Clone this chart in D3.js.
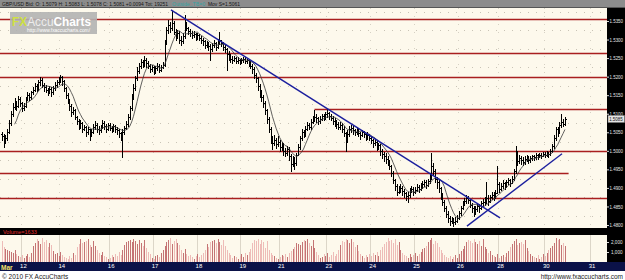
<!DOCTYPE html>
<html>
<head>
<meta charset="utf-8">
<script src="https://cdnjs.cloudflare.com/ajax/libs/d3/7.8.5/d3.min.js"></script>
<style>
body { margin: 0; background: #fff; }
svg { display: block; font-family: "Liberation Sans", Arial, sans-serif; }
</style>
</head>
<body>
<div id="chart"></div>
<script>

// ******* DATA (GBP/USD hourly bars) *******
var firstOpen = 1.5045;
var closes = [
	1.5040, 1.5025, 1.5035, 1.5050, 1.5075, 1.5100, 1.5118, 1.5130, 1.5122, 1.5140,
	1.5128, 1.5115, 1.5122, 1.5140, 1.5150, 1.5145, 1.5158, 1.5165, 1.5175, 1.5170,
	1.5185, 1.5190, 1.5178, 1.5172, 1.5165, 1.5160, 1.5168, 1.5158, 1.5170, 1.5178,
	1.5185, 1.5192, 1.5198, 1.5188, 1.5170, 1.5150, 1.5135, 1.5120, 1.5105, 1.5110,
	1.5090, 1.5080, 1.5068, 1.5075, 1.5060, 1.5065, 1.5050, 1.5058, 1.5045, 1.5052,
	1.5065, 1.5070, 1.5060, 1.5055, 1.5065, 1.5075, 1.5068, 1.5060, 1.5070, 1.5062,
	1.5058, 1.5066, 1.5060, 1.5055, 1.5048, 1.5040, 1.5050, 1.5062, 1.5072, 1.5090,
	1.5115, 1.5145, 1.5170, 1.5195, 1.5215, 1.5228, 1.5240, 1.5232, 1.5245, 1.5238,
	1.5228, 1.5220, 1.5225, 1.5215, 1.5222, 1.5230, 1.5218, 1.5225, 1.5232, 1.5290,
	1.5325, 1.5340, 1.5330, 1.5345, 1.5320, 1.5310, 1.5318, 1.5300, 1.5295, 1.5310,
	1.5342, 1.5330, 1.5322, 1.5318, 1.5312, 1.5316, 1.5308, 1.5312, 1.5305, 1.5300,
	1.5295, 1.5285, 1.5290, 1.5282, 1.5275, 1.5285, 1.5290, 1.5280, 1.5295, 1.5300,
	1.5290, 1.5280, 1.5275, 1.5262, 1.5255, 1.5248, 1.5245, 1.5250, 1.5242, 1.5246,
	1.5240, 1.5244, 1.5248, 1.5242, 1.5245, 1.5238, 1.5230, 1.5220, 1.5205, 1.5195,
	1.5175, 1.5158, 1.5145, 1.5130, 1.5110, 1.5085, 1.5060, 1.5035, 1.5020, 1.5030,
	1.5018, 1.5025, 1.5010, 1.5015, 1.5000, 1.4995, 1.5005, 1.4985, 1.4965, 1.4975,
	1.4968, 1.4990, 1.5010, 1.5035, 1.5050, 1.5045, 1.5060, 1.5070, 1.5065, 1.5078,
	1.5085, 1.5092, 1.5088, 1.5080, 1.5086, 1.5094, 1.5090, 1.5098, 1.5102, 1.5095,
	1.5088, 1.5080, 1.5076, 1.5072, 1.5065, 1.5070, 1.5060, 1.5048, 1.5030, 1.5045,
	1.5058, 1.5062, 1.5055, 1.5050, 1.5058, 1.5048, 1.5042, 1.5050, 1.5045, 1.5038,
	1.5042, 1.5035, 1.5028, 1.5020, 1.5025, 1.5010, 1.5015, 1.5000, 1.4992, 1.4985,
	1.4978, 1.4970, 1.4960, 1.4940, 1.4920, 1.4905, 1.4890, 1.4895, 1.4900, 1.4892,
	1.4885, 1.4878, 1.4880, 1.4892, 1.4898, 1.4890, 1.4895, 1.4902, 1.4898, 1.4905,
	1.4910, 1.4915, 1.4908, 1.4918, 1.4930, 1.4960, 1.4945, 1.4925, 1.4915, 1.4900,
	1.4880, 1.4862, 1.4845, 1.4830, 1.4818, 1.4810, 1.4815, 1.4808, 1.4812, 1.4820,
	1.4832, 1.4845, 1.4858, 1.4865, 1.4872, 1.4868, 1.4855, 1.4845, 1.4838, 1.4842,
	1.4850, 1.4845, 1.4858, 1.4862, 1.4868, 1.4872, 1.4865, 1.4875, 1.4882, 1.4878,
	1.4885, 1.4910, 1.4898, 1.4905, 1.4912, 1.4905, 1.4915, 1.4920, 1.4912, 1.4925,
	1.4945, 1.4990, 1.4972, 1.4980, 1.4975, 1.4970, 1.4978, 1.4982, 1.4975, 1.4980,
	1.4985, 1.4982, 1.4988, 1.4984, 1.4990, 1.4986, 1.4992, 1.4988, 1.4995, 1.4992,
	1.5000, 1.5012, 1.5035, 1.5058, 1.5050, 1.5070, 1.5078, 1.5072, 1.5085
];
var highs = [
	1.5052, 1.5045, 1.5042, 1.5058, 1.5082, 1.5108, 1.5128, 1.5142, 1.5135, 1.5148,
	1.5145, 1.5132, 1.5130, 1.5146, 1.5158, 1.5155, 1.5162, 1.5172, 1.5182, 1.5180,
	1.5192, 1.5198, 1.5195, 1.5182, 1.5178, 1.5170, 1.5175, 1.5172, 1.5176, 1.5186,
	1.5190, 1.5200, 1.5205, 1.5202, 1.5192, 1.5172, 1.5155, 1.5140, 1.5125, 1.5118,
	1.5112, 1.5095, 1.5085, 1.5082, 1.5078, 1.5070, 1.5068, 1.5064, 1.5060, 1.5060,
	1.5072, 1.5080, 1.5075, 1.5066, 1.5070, 1.5082, 1.5080, 1.5072, 1.5076, 1.5074,
	1.5066, 1.5072, 1.5070, 1.5064, 1.5058, 1.5052, 1.5058, 1.5068, 1.5080, 1.5098,
	1.5120, 1.5152, 1.5180, 1.5202, 1.5225, 1.5236, 1.5248, 1.5245, 1.5255, 1.5250,
	1.5242, 1.5235, 1.5232, 1.5230, 1.5230, 1.5238, 1.5235, 1.5232, 1.5240, 1.5300,
	1.5335, 1.5352, 1.5348, 1.5378, 1.5350, 1.5328, 1.5325, 1.5322, 1.5310, 1.5318,
	1.5366, 1.5348, 1.5335, 1.5328, 1.5322, 1.5322, 1.5318, 1.5318, 1.5315, 1.5310,
	1.5305, 1.5298, 1.5296, 1.5294, 1.5288, 1.5292, 1.5298, 1.5294, 1.5302, 1.5320,
	1.5298, 1.5294, 1.5284, 1.5278, 1.5268, 1.5260, 1.5255, 1.5256, 1.5252, 1.5252,
	1.5248, 1.5250, 1.5254, 1.5252, 1.5250, 1.5248, 1.5242, 1.5235, 1.5225, 1.5210,
	1.5200, 1.5180, 1.5165, 1.5150, 1.5135, 1.5112, 1.5090, 1.5065, 1.5040, 1.5042,
	1.5035, 1.5040, 1.5030, 1.5025, 1.5022, 1.5008, 1.5012, 1.5010, 1.4992, 1.4985,
	1.4982, 1.4995, 1.5018, 1.5040, 1.5058, 1.5056, 1.5066, 1.5078, 1.5075, 1.5085,
	1.5095, 1.5110, 1.5098, 1.5092, 1.5095, 1.5100, 1.5098, 1.5105, 1.5112, 1.5106,
	1.5100, 1.5094, 1.5088, 1.5082, 1.5078, 1.5078, 1.5074, 1.5066, 1.5052, 1.5055,
	1.5066, 1.5070, 1.5068, 1.5060, 1.5064, 1.5060, 1.5052, 1.5056, 1.5054, 1.5048,
	1.5050, 1.5046, 1.5040, 1.5032, 1.5032, 1.5028, 1.5022, 1.5018, 1.5005, 1.4998,
	1.4995, 1.4985, 1.4975, 1.4962, 1.4945, 1.4925, 1.4910, 1.4905, 1.4910, 1.4905,
	1.4898, 1.4890, 1.4888, 1.4900, 1.4905, 1.4902, 1.4902, 1.4910, 1.4908, 1.4912,
	1.4918, 1.4922, 1.4920, 1.4925, 1.4940, 1.4995, 1.4968, 1.4950, 1.4930, 1.4920,
	1.4902, 1.4885, 1.4868, 1.4852, 1.4838, 1.4825, 1.4822, 1.4820, 1.4822, 1.4828,
	1.4838, 1.4852, 1.4865, 1.4872, 1.4880, 1.4878, 1.4870, 1.4860, 1.4850, 1.4852,
	1.4858, 1.4856, 1.4865, 1.4870, 1.4875, 1.4915, 1.4880, 1.4882, 1.4890, 1.4888,
	1.4895, 1.4960, 1.4915, 1.4912, 1.4920, 1.4915, 1.4922, 1.4928, 1.4925, 1.4932,
	1.4950, 1.5014, 1.5000, 1.4988, 1.4985, 1.4982, 1.4985, 1.4990, 1.4986, 1.4986,
	1.4990, 1.4990, 1.4994, 1.4992, 1.4995, 1.4994, 1.4998, 1.4996, 1.5000, 1.4998,
	1.5005, 1.5018, 1.5042, 1.5065, 1.5064, 1.5078, 1.5098, 1.5085, 1.5092
];
var lows = [
	1.5030, 1.5010, 1.5020, 1.5030, 1.5048, 1.5070, 1.5095, 1.5112, 1.5110, 1.5118,
	1.5120, 1.5108, 1.5110, 1.5118, 1.5138, 1.5138, 1.5140, 1.5152, 1.5160, 1.5160,
	1.5165, 1.5178, 1.5172, 1.5162, 1.5158, 1.5150, 1.5155, 1.5148, 1.5154, 1.5165,
	1.5172, 1.5180, 1.5186, 1.5178, 1.5160, 1.5142, 1.5128, 1.5110, 1.5095, 1.5098,
	1.5085, 1.5072, 1.5060, 1.5062, 1.5052, 1.5055, 1.5040, 1.5045, 1.5030, 1.5040,
	1.5048, 1.5060, 1.5052, 1.5046, 1.5050, 1.5062, 1.5060, 1.5052, 1.5056, 1.5055,
	1.5050, 1.5054, 1.5052, 1.5045, 1.5038, 1.5028, 1.4982, 1.5045, 1.5058, 1.5068,
	1.5085, 1.5110, 1.5140, 1.5165, 1.5190, 1.5210, 1.5222, 1.5225, 1.5228, 1.5225,
	1.5222, 1.5212, 1.5215, 1.5208, 1.5210, 1.5218, 1.5212, 1.5215, 1.5222, 1.5228,
	1.5288, 1.5318, 1.5320, 1.5325, 1.5315, 1.5300, 1.5305, 1.5292, 1.5285, 1.5290,
	1.5305, 1.5325, 1.5315, 1.5310, 1.5305, 1.5308, 1.5300, 1.5302, 1.5298, 1.5290,
	1.5285, 1.5278, 1.5280, 1.5272, 1.5245, 1.5270, 1.5280, 1.5272, 1.5276, 1.5288,
	1.5282, 1.5272, 1.5266, 1.5218, 1.5245, 1.5240, 1.5238, 1.5242, 1.5236, 1.5238,
	1.5234, 1.5236, 1.5240, 1.5236, 1.5238, 1.5230, 1.5222, 1.5210, 1.5195, 1.5185,
	1.5165, 1.5145, 1.5135, 1.5118, 1.5100, 1.5075, 1.5050, 1.5020, 1.5005, 1.5015,
	1.5008, 1.5012, 1.5000, 1.5002, 1.4990, 1.4985, 1.4990, 1.4975, 1.4945, 1.4960,
	1.4950, 1.4962, 1.4988, 1.5005, 1.5030, 1.5036, 1.5040, 1.5055, 1.5058, 1.5060,
	1.5075, 1.5080, 1.5078, 1.5072, 1.5075, 1.5084, 1.5082, 1.5086, 1.5092, 1.5085,
	1.5082, 1.5072, 1.5068, 1.5062, 1.5058, 1.5060, 1.5052, 1.5040, 1.5000, 1.5025,
	1.5040, 1.5052, 1.5046, 1.5042, 1.5045, 1.5040, 1.5032, 1.5040, 1.5036, 1.5028,
	1.5032, 1.5028, 1.5020, 1.5010, 1.5015, 1.5002, 1.5005, 1.4990, 1.4980, 1.4972,
	1.4968, 1.4962, 1.4950, 1.4932, 1.4912, 1.4895, 1.4880, 1.4885, 1.4888, 1.4882,
	1.4875, 1.4868, 1.4862, 1.4875, 1.4888, 1.4882, 1.4885, 1.4892, 1.4890, 1.4895,
	1.4900, 1.4905, 1.4900, 1.4905, 1.4912, 1.4925, 1.4935, 1.4915, 1.4900, 1.4888,
	1.4870, 1.4855, 1.4838, 1.4822, 1.4808, 1.4800, 1.4805, 1.4798, 1.4802, 1.4808,
	1.4815, 1.4828, 1.4842, 1.4855, 1.4860, 1.4858, 1.4848, 1.4835, 1.4825, 1.4830,
	1.4838, 1.4835, 1.4842, 1.4850, 1.4855, 1.4860, 1.4855, 1.4862, 1.4870, 1.4868,
	1.4872, 1.4885, 1.4888, 1.4895, 1.4900, 1.4898, 1.4902, 1.4910, 1.4905, 1.4912,
	1.4920, 1.4940, 1.4962, 1.4968, 1.4965, 1.4962, 1.4965, 1.4972, 1.4968, 1.4970,
	1.4975, 1.4975, 1.4978, 1.4978, 1.4982, 1.4980, 1.4985, 1.4982, 1.4986, 1.4984,
	1.4988, 1.4996, 1.5008, 1.5030, 1.5040, 1.5048, 1.5065, 1.5066, 1.5070
];
var volumes = [
	2100, 1500, 1300, 1200, 1100, 1000, 900, 1200, 800, 600,
	500, 700, 400, 600, 800, 500, 900, 1600, 1900, 2300,
	2100, 1800, 2400, 2000, 2200, 1500, 1900, 1700, 1100, 800,
	900, 600, 1000, 700, 500, 400, 300, 600, 400, 900,
	700, 1500, 1800, 2300, 1900, 2000, 2100, 2300, 1700, 1500,
	2100, 1600, 1200, 900, 700, 1000, 600, 500, 300, 400,
	700, 500, 800, 600, 1000, 700, 1200, 1700, 2000, 2100,
	2200, 2000, 2300, 2100, 1800, 2200, 1900, 1600, 2200, 1400,
	1000, 800, 400, 300, 600, 700, 500, 900, 1200, 1600,
	2000, 2200, 2400, 1800, 2100, 2300, 1900, 1700, 1200, 900,
	1300, 800, 600, 700, 500, 300, 600, 800, 500, 700,
	900, 1200, 1800, 1500, 2000, 2100, 2200, 1900, 2300, 2000,
	1700, 2200, 1600, 1200, 900, 700, 400, 600, 500, 300,
	600, 800, 500, 900, 700, 1000, 1300, 1900, 2200, 2100,
	2300, 1800, 2200, 2000, 1400, 2100, 1200, 900, 700, 600,
	400, 300, 500, 700, 600, 800, 500, 900, 1100, 1300,
	1500, 1900, 1800, 1700, 2000, 2200, 2100, 2300, 1900, 1600,
	2200, 1400, 1000, 700, 400, 500, 800, 600, 900, 500,
	700, 1000, 600, 800, 1200, 1700, 2100, 2000, 2300, 2200,
	1900, 2300, 2000, 1500, 1700, 1100, 800, 600, 400, 700,
	500, 800, 600, 900, 700, 1000, 600, 1200, 1500, 1800,
	2000, 2400, 2100, 2200, 1900, 2300, 1700, 2000, 1200, 900,
	700, 600, 400, 800, 500, 700, 900, 600, 800, 1000,
	1300, 1400, 1600, 2000, 2200, 2400, 1800, 2100, 1900, 1500,
	1200, 900, 700, 500, 400, 600, 300, 500, 700, 400,
	800, 1100, 1300, 1600, 2000, 2200, 2100, 1900, 2300, 2000,
	1800, 2100, 1600, 2300, 1500, 1300, 900, 1100, 700, 600,
	500, 800, 400, 600, 700, 500, 900, 1100, 1500, 1800,
	2100, 2300, 1700, 1900, 2000, 1800, 2200, 1400, 1100, 800,
	600, 500, 400, 700, 300, 500, 800, 600, 900, 1200,
	1400, 1600, 1900, 2400, 2200, 2300, 1700, 1900, 1633
];

// day boundaries (bar index) and their labels
var dayStarts = [11, 32, 59, 83, 107, 131, 152, 178, 202, 226, 250, 272, 297, 322];
var dayLabels = ["12", "14", "16", "17", "18", "19", "21", "23", "24", "25", "26", "28", "30", "31"];
var priceTicks = [1.4800, 1.4850, 1.4900, 1.4950, 1.5000, 1.5050, 1.5100, 1.5150, 1.5200, 1.5250, 1.5300, 1.5350];
var volumeTicks = [1000, 2000];

// horizontal support / resistance levels (from / to in bar index)
var levelPrices = [1.5355, 1.5265, 1.5200, 1.5112, 1.5000, 1.4940, 1.4872];
var levelFrom = [-1, -1, -1, 171, -1, -1, -1];
var levelTo = [331, 331, 331, 331, 331, 310, 331];

// trend lines: [bar, price] pairs
var trendDown = [[92.5, 1.5380], [272.5, 1.4819]];
var trendUp = [[254.4, 1.4797], [306.4, 1.4992]];

var maPeriod = 8;

// ******* LAYOUT *******
var W = 625, H = 280;
var plotRight = 607;
var mainTop = 8, mainBottom = 228;
var volTop = 235, volBottom = 262;

var svg = d3.select("#chart").append("svg")
	.attr("width", W)
	.attr("height", H);

var xScale = d3.scaleLinear().domain([-1, 331]).range([0, plotRight]);
var yScale = d3.scaleLinear().domain([1.4800, 1.5350]).range([225, 21]);
var vScale = d3.scaleLinear().domain([0, 2000]).range([volBottom, 242]);

// bars with open = previous close
var bars = closes.map(function(c, i) {
	var o = i == 0 ? firstOpen : closes[i - 1];
	return {i: i, o: o, c: c, h: Math.max(highs[i], o, c), l: Math.min(lows[i], o, c), v: volumes[i]};
});

// Backgrounds
svg.append("rect").attr("x", 0).attr("y", 0).attr("width", W).attr("height", H).attr("fill", "#fff");
svg.append("rect").attr("x", 0).attr("y", 0).attr("width", W).attr("height", mainTop).attr("fill", "#8c8c8c");
svg.append("rect").attr("x", 0).attr("y", mainTop - 1).attr("width", W).attr("height", 1).attr("fill", "#555");
svg.append("rect").attr("x", 0).attr("y", mainTop).attr("width", plotRight).attr("height", mainBottom - mainTop).attr("fill", "#fdf9ec");
svg.append("rect").attr("x", plotRight).attr("y", mainTop).attr("width", W - plotRight).attr("height", mainBottom - mainTop).attr("fill", "#000");
svg.append("rect").attr("x", 0).attr("y", mainBottom).attr("width", W).attr("height", volTop - mainBottom).attr("fill", "#000");
svg.append("rect").attr("x", 0).attr("y", volTop).attr("width", plotRight).attr("height", volBottom - volTop).attr("fill", "#fdf9ec");
svg.append("rect").attr("x", plotRight).attr("y", volTop).attr("width", W - plotRight).attr("height", volBottom - volTop).attr("fill", "#000");
svg.append("rect").attr("x", 0).attr("y", volBottom).attr("width", W).attr("height", 9).attr("fill", "#0b1248");

svg.append("clipPath").attr("id", "mainclip")
	.append("rect").attr("x", 0).attr("y", mainTop).attr("width", plotRight).attr("height", mainBottom - mainTop);

var main = svg.append("g").attr("clip-path", "url(#mainclip)");

// 					******* GRID *******
var gridPrices = priceTicks.map(function(p) { return p + 0.0025; });
main.selectAll(".hgrid").data(gridPrices).enter().append("line")
	.attr("x1", 0).attr("x2", plotRight)
	.attr("y1", function(d) { return Math.round(yScale(d)) + 0.5; })
	.attr("y2", function(d) { return Math.round(yScale(d)) + 0.5; })
	.attr("stroke", "#c9c4b6").attr("stroke-dasharray", "1,7");
main.selectAll(".vgrid").data(dayStarts).enter().append("line")
	.attr("x1", function(d) { return Math.round(xScale(d - 0.5)) + 0.5; })
	.attr("x2", function(d) { return Math.round(xScale(d - 0.5)) + 0.5; })
	.attr("y1", mainTop).attr("y2", mainBottom)
	.attr("stroke", "#d6d1c4").attr("stroke-dasharray", "1,7");

// Logo
var logo = svg.append("g");
logo.append("rect").attr("x", 10).attr("y", 12).attr("width", 87).attr("height", 22)
	.attr("fill", "#b3b3b3").attr("opacity", 0.9);
var logoText = logo.append("text").attr("x", 12).attr("y", 26)
	.style("font-size", "13px").style("font-family", "Arial, 'Liberation Sans', sans-serif");
logoText.append("tspan").text("FX").attr("fill", "#cfe043").style("font-weight", "bold");
logoText.append("tspan").text("Accu").attr("fill", "#ececec");
logoText.append("tspan").text("Charts").attr("fill", "#fff").style("font-weight", "bold");
logoText.attr("textLength", 79).attr("lengthAdjust", "spacingAndGlyphs");
logo.append("text").attr("x", 27).attr("y", 32).text("http://www.fxaccucharts.com/")
	.attr("fill", "#fff").style("font-size", "4.5px")
	.attr("textLength", 63).attr("lengthAdjust", "spacingAndGlyphs");

// Levels
main.selectAll(".level").data(levelPrices).enter().append("line")
	.attr("x1", function(d, i) { return xScale(levelFrom[i]); })
	.attr("x2", function(d, i) { return xScale(levelTo[i]); })
	.attr("y1", function(d) { return Math.round(yScale(d)) + 0.5; })
	.attr("y2", function(d) { return Math.round(yScale(d)) + 0.5; })
	.attr("stroke", "#a91f1f").attr("stroke-width", 1.3);

// OHLC bars
var barX = function(d) { return Math.round(xScale(d.i)) + 0.5; };
var ohlc = main.append("g").attr("stroke", "#000").attr("stroke-width", 1).attr("shape-rendering", "crispEdges");
ohlc.selectAll(".hl").data(bars).enter().append("line")
	.attr("x1", barX).attr("x2", barX)
	.attr("y1", function(d) { return yScale(d.h); })
	.attr("y2", function(d) { return yScale(d.l) + 1; });
ohlc.selectAll(".op").data(bars).enter().append("line")
	.attr("x1", function(d) { return barX(d) - 1.5; }).attr("x2", barX)
	.attr("y1", function(d) { return Math.round(yScale(d.o)) + 0.5; })
	.attr("y2", function(d) { return Math.round(yScale(d.o)) + 0.5; });
ohlc.selectAll(".cl").data(bars).enter().append("line")
	.attr("x1", barX).attr("x2", function(d) { return barX(d) + 1.5; })
	.attr("y1", function(d) { return Math.round(yScale(d.c)) + 0.5; })
	.attr("y2", function(d) { return Math.round(yScale(d.c)) + 0.5; });

// Moving average of the closes
var maData = [];
bars.forEach(function(d, i) {
	if (i >= maPeriod - 1)
		maData.push({i: i, v: d3.mean(closes.slice(i - maPeriod + 1, i + 1))});
});
var maLine = d3.line()
	.x(function(d) { return xScale(d.i); })
	.y(function(d) { return yScale(d.v); });
main.append("path").datum(maData)
	.attr("d", maLine)
	.attr("fill", "none").attr("stroke", "#3a3a3a").attr("stroke-width", 0.8);

// Trend lines
var tLine = d3.line()
	.x(function(d) { return xScale(d[0]); })
	.y(function(d) { return yScale(d[1]); });
[trendDown, trendUp].forEach(function(t) {
	main.append("path").datum(t)
		.attr("d", tLine)
		.attr("fill", "none").attr("stroke", "#1b1f9e").attr("stroke-width", 1.4);
});

// 					******* AXES *******
var yAxis = d3.axisRight(yScale).tickValues(priceTicks).tickSize(2).tickPadding(0.5)
	.tickFormat(d3.format(".4f"));
var yAxisGroup = svg.append("g").attr("class", "axis")
	.attr("transform", "translate(" + plotRight + ",0)")
	.call(yAxis);
yAxisGroup.select(".domain").remove();
yAxisGroup.selectAll("line").attr("stroke", "#ddd");
yAxisGroup.selectAll("text")
	.attr("fill", "#e6e6e6").style("font-size", "4.8px")
	.attr("textLength", 13.5).attr("lengthAdjust", "spacingAndGlyphs");

// last price tag
var last = bars[bars.length - 1];
svg.append("rect").attr("x", plotRight + 1).attr("y", Math.round(yScale(last.c)) - 3.5)
	.attr("width", 16.5).attr("height", 7).attr("fill", "#e4e4e4").attr("stroke", "#777").attr("stroke-width", 0.6);
svg.append("text").attr("x", plotRight + 2.2).attr("y", Math.round(yScale(last.c)) + 2)
	.text(d3.format(".4f")(last.c)).attr("fill", "#111").style("font-size", "4.8px")
	.attr("textLength", 13.5).attr("lengthAdjust", "spacingAndGlyphs");

// Volume panel
svg.selectAll(".vsep").data(dayStarts).enter().append("line")
	.attr("x1", function(d) { return Math.round(xScale(d - 0.5)) + 0.5; })
	.attr("x2", function(d) { return Math.round(xScale(d - 0.5)) + 0.5; })
	.attr("y1", volTop).attr("y2", volBottom)
	.attr("stroke", "#dcd6c8");
svg.append("g").attr("shape-rendering", "crispEdges")
	.selectAll(".vol").data(bars).enter().append("line")
	.attr("x1", barX).attr("x2", barX)
	.attr("y1", function(d) { return vScale(d.v); })
	.attr("y2", volBottom)
	.attr("stroke", function(d) { return d.c >= d.o ? "#c47474" : "#eebcb8"; });

var vAxis = d3.axisRight(vScale).tickValues(volumeTicks).tickSize(2).tickPadding(2);
var vAxisGroup = svg.append("g").attr("class", "axis")
	.attr("transform", "translate(" + plotRight + ",0)")
	.call(vAxis);
vAxisGroup.select(".domain").remove();
vAxisGroup.selectAll("line").attr("stroke", "#ddd");
vAxisGroup.selectAll("text").attr("fill", "#e6e6e6").style("font-size", "5px")
	.attr("textLength", 11.5).attr("lengthAdjust", "spacingAndGlyphs");

svg.append("text").attr("x", 3).attr("y", 234)
	.text("Volume=" + last.v).attr("fill", "#e03030").style("font-size", "5.5px");

// Date axis
var xAxis = d3.axisBottom(xScale).tickValues(dayStarts).tickSize(0).tickPadding(0)
	.tickFormat(function(d, i) { return dayLabels[i]; });
var xAxisGroup = svg.append("g").attr("class", "axis")
	.attr("transform", "translate(1," + (volBottom + 2) + ")")
	.call(xAxis);
xAxisGroup.select(".domain").remove();
xAxisGroup.selectAll("text").attr("fill", "#fff").style("font-size", "6px");
svg.append("text").attr("x", 1).attr("y", 269.5).text("Mar")
	.attr("fill", "#f3e36a").style("font-size", "6.5px").style("font-weight", "bold");

// Title bar
svg.append("text").attr("x", 2).attr("y", 5.6).style("font-size", "4.6px").attr("fill", "#161616")
	.text("GBP/USD Bid: O: 1.5079 H: 1.5083 L: 1.5078 C: 1.5081 +0.0094 Tot: 19251")
	.attr("textLength", 166).attr("lengthAdjust", "spacingAndGlyphs");
svg.append("text").attr("x", 172).attr("y", 5.6).style("font-size", "5px").attr("fill", "#36a4a4")
	.text("Outside_TB=0").attr("textLength", 33).attr("lengthAdjust", "spacingAndGlyphs");
svg.append("text").attr("x", 208).attr("y", 5.6).style("font-size", "5px").attr("fill", "#161616")
	.text("Mov S=1.5061").attr("textLength", 32).attr("lengthAdjust", "spacingAndGlyphs");

// Footer
svg.append("text").attr("x", 2).attr("y", 278.5).text("\u00a9 2010 FX AccuCharts")
	.attr("fill", "#222").style("font-size", "6.5px");
svg.append("text").attr("x", 623).attr("y", 278.5).attr("text-anchor", "end")
	.text("http://www.fxaccucharts.com").attr("fill", "#222").style("font-size", "6.5px");

</script>
</body>
</html>
